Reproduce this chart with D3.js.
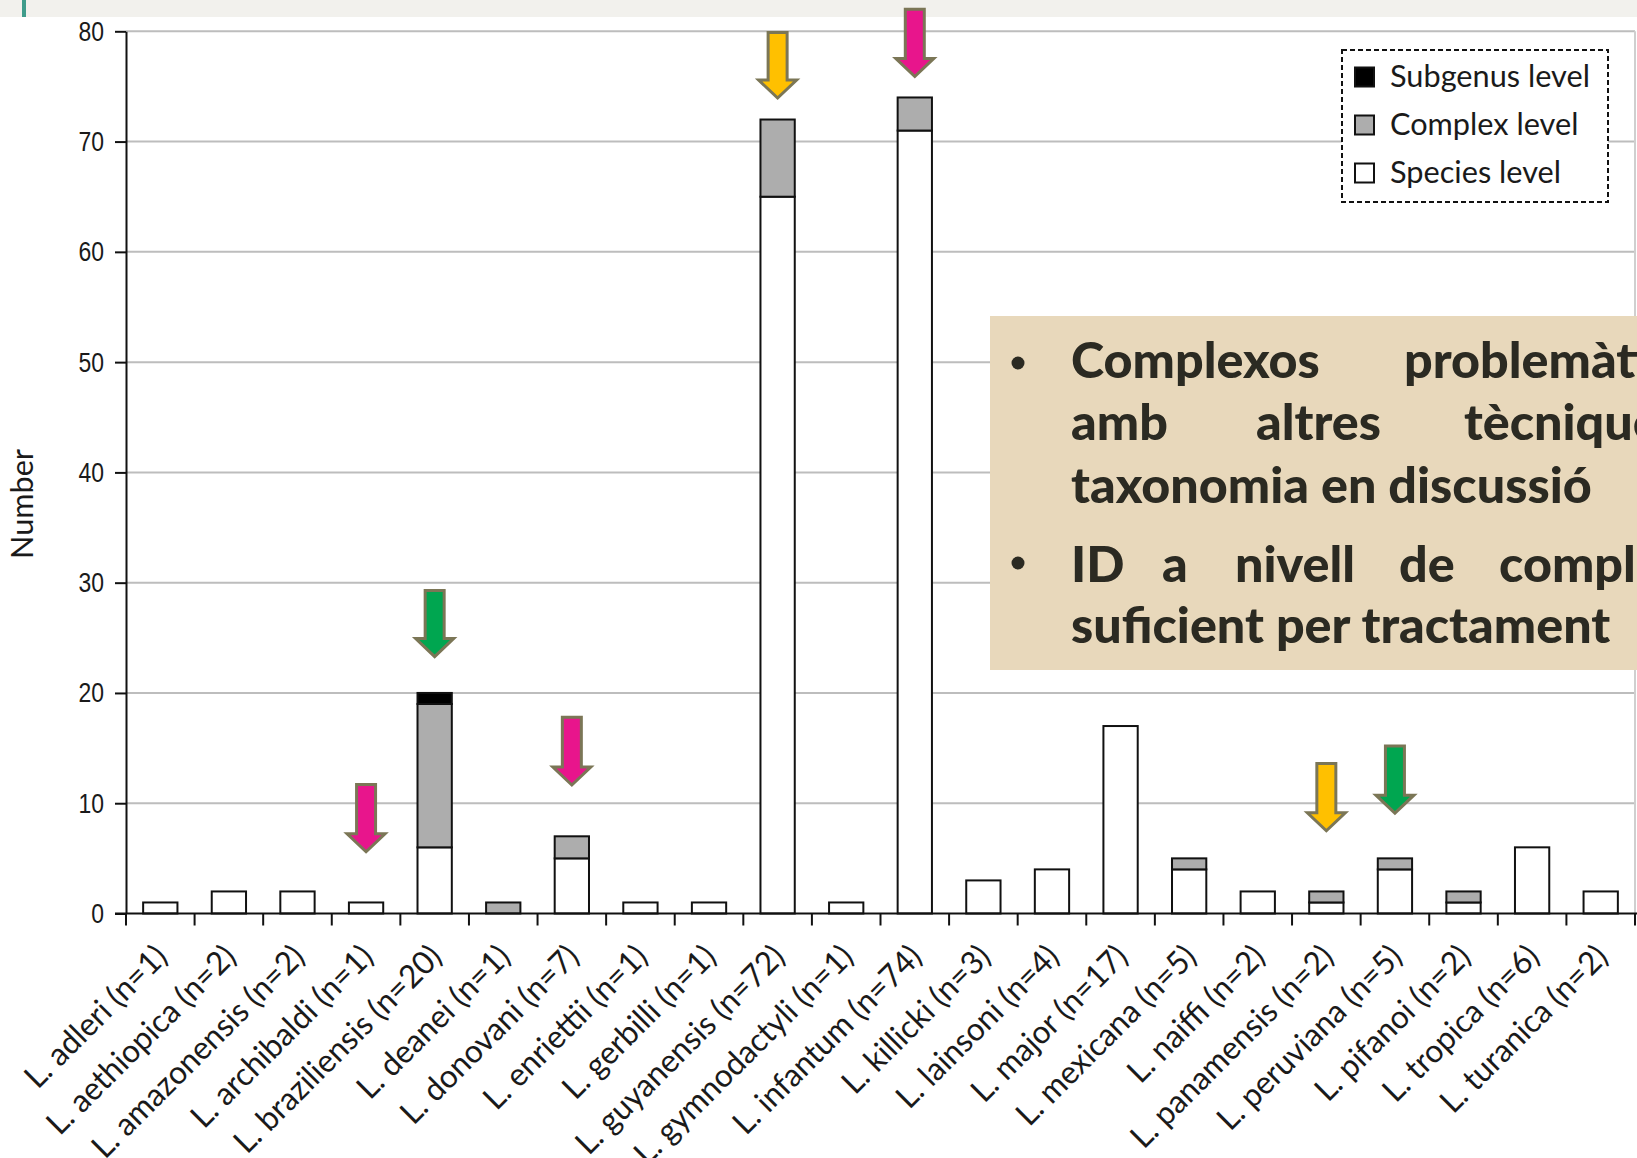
<!DOCTYPE html>
<html><head><meta charset="utf-8">
<script src="https://cdn.jsdelivr.net/npm/d3@7"></script>
<style>body{margin:0;background:#fff;overflow:hidden}svg{display:block}</style>
</head><body>
<svg id="c" width="1637" height="1158"></svg>
<script>
// ---------- data ----------
const categories = ["L. adleri (n=1)","L. aethiopica (n=2)","L. amazonensis (n=2)","L. archibaldi (n=1)",
  "L. braziliensis (n=20)","L. deanei (n=1)","L. donovani (n=7)","L. enriettii (n=1)","L. gerbilli (n=1)",
  "L. guyanensis (n=72)","L. gymnodactyli (n=1)","L. infantum (n=74)","L. killicki (n=3)","L. lainsoni (n=4)",
  "L. major (n=17)","L. mexicana (n=5)","L. naiffi (n=2)","L. panamensis (n=2)","L. peruviana (n=5)",
  "L. pifanoi (n=2)","L. tropica (n=6)","L. turanica (n=2)"];
const speciesLevel  = [1,2,2,1,6,0,5,1,1,65,1,71,3,4,17,4,2,1,4,1,6,2];
const complexLevel  = [0,0,0,0,13,1,2,0,0,7,0,3,0,0,0,1,0,1,1,1,0,0];
const subgenusLevel = [0,0,0,0,1,0,0,0,0,0,0,0,0,0,0,0,0,0,0,0,0,0];
const seriesKeys = ["species","complex","subgenus"];
const legendLabels = ["Subgenus level","Complex level","Species level"];
const legendKeys = ["subgenus","complex","species"];
const yTicks = [0,10,20,30,40,50,60,70,80];
const yTitle = "Number";
// arrows: category, colour name, top value and tip value (data units)
const arrowCats  = ["L. archibaldi (n=1)","L. braziliensis (n=20)","L. donovani (n=7)","L. guyanensis (n=72)",
  "L. infantum (n=74)","L. panamensis (n=2)","L. peruviana (n=5)"];
const arrowColor = ["pink","green","pink","orange","pink","orange","green"];
const arrowTop   = [11.7,29.3,17.8,79.9,82.0,13.6,15.2];
const arrowTip   = [5.6,23.3,11.65,73.95,75.9,7.5,9.1];
// overlay note (Catalan), lines of words
const noteLines = [
  ["Complexos","problemàtics"],
  ["amb","altres","tècniques"],
  ["taxonomia en discussió"],
  ["ID","a","nivell","de","complex"],
  ["suficient per tractament"]
];

// ---------- styles ----------
const fills = {species:"#ffffff", complex:"#adadad", subgenus:"#000000"};
const arrowFills = {pink:"#e8158c", green:"#00a650", orange:"#ffc000"};
const svg = d3.select("#c");

function measure(text, family, weight, size){
  const t = svg.append("text").attr("font-family",family).attr("font-weight",weight)
     .attr("font-size",size).text(text);
  const len = t.node().getComputedTextLength(); t.remove();
  return len;
}
function fitSize(text, family, weight, target){
  return 100*target/measure(text, family, weight, 100);
}

// top strip
svg.append("rect").attr("x",0).attr("y",0).attr("width",1637).attr("height",17).attr("fill","#f2f1ed");
svg.append("rect").attr("x",22).attr("y",0).attr("width",4).attr("height",17).attr("fill","#3f9c8b");

const m = {left:126, right:1635, top:31.3, bottom:913.5};
const x = d3.scaleBand().domain(categories).range([m.left, m.right]).paddingInner(0.5).paddingOuter(0.25);
const y = d3.scaleLinear().domain([0,80]).range([m.bottom, m.top]);

// gridlines
svg.append("g").selectAll("line").data(yTicks.filter(d=>d>0)).join("line")
  .attr("x1",m.left).attr("x2",m.right).attr("y1",d=>y(d)).attr("y2",d=>y(d))
  .attr("stroke","#bdbdbd").attr("stroke-width",2);
svg.append("line").attr("x1",m.right).attr("x2",m.right).attr("y1",y(80)).attr("y2",y(0))
  .attr("stroke","#cfcfcf").attr("stroke-width",2);

// bars
const table = categories.map((c,i)=>({cat:c, species:speciesLevel[i], complex:complexLevel[i], subgenus:subgenusLevel[i]}));
const stacked = d3.stack().keys(seriesKeys)(table);
svg.append("g").selectAll("g").data(stacked).join("g").attr("fill",d=>fills[d.key])
  .selectAll("rect").data(d=>d.filter(s=>s[1]-s[0]>0)).join("rect")
  .attr("x",d=>x(d.data.cat)).attr("width",x.bandwidth())
  .attr("y",d=>y(d[1])).attr("height",d=>y(d[0])-y(d[1]))
  .attr("stroke","#111").attr("stroke-width",2);

// y axis
const tickSX = 0.82;
const yAx = svg.append("g").attr("transform",`translate(${m.left},0)`)
  .call(d3.axisLeft(y).tickValues(yTicks).tickSize(11).tickPadding(12).tickSizeOuter(0));
yAx.select(".domain").attr("stroke","#111").attr("stroke-width",2);
yAx.selectAll(".tick line").attr("stroke","#111").attr("stroke-width",2);
yAx.selectAll(".tick text").attr("font-family","'Liberation Sans',Arial,sans-serif")
  .attr("font-size",28).attr("fill","#1a1a1a")
  .attr("x",-22/tickSX).attr("transform",`scale(${tickSX},1)`);

// x axis line and boundary ticks
svg.append("line").attr("x1",m.left-11).attr("x2",1637).attr("y1",m.bottom).attr("y2",m.bottom)
  .attr("stroke","#111").attr("stroke-width",2);
const step = x.step();
const bounds = categories.map(c=>x(c)+x.bandwidth()/2-step/2).concat([x(categories[categories.length-1])+x.bandwidth()/2+step/2]);
svg.append("g").selectAll("line").data(bounds).join("line")
  .attr("x1",d=>d).attr("x2",d=>d).attr("y1",m.bottom).attr("y2",m.bottom+12)
  .attr("stroke","#111").attr("stroke-width",2);

// category labels
const labFont = "Lato, 'Open Sans', sans-serif";
const labSize = 32;
const labSX = 285/measure("L. amazonensis (n=2)", labFont, 400, labSize);
svg.append("g").selectAll("text").data(categories).join("text")
  .attr("transform",d=>`translate(${x(d)+x.bandwidth()/2+9},${m.bottom+45}) rotate(-45) scale(${labSX},1)`)
  .attr("text-anchor","end").attr("font-family",labFont).attr("font-size",labSize)
  .attr("fill","#1a1a1a").text(d=>d);

// y title
const numSize = fitSize(yTitle, labFont, 400, 110);
svg.append("text").attr("transform","translate(33,504) rotate(-90)").attr("text-anchor","middle")
  .attr("font-family",labFont).attr("font-size",numSize).attr("fill","#1a1a1a").text(yTitle);

// legend
svg.append("rect").attr("x",1342).attr("y",50).attr("width",266).attr("height",152)
  .attr("fill","#fff").attr("stroke","#111").attr("stroke-width",2).attr("stroke-dasharray","5,3");
const legSize = fitSize(legendLabels[0], labFont, 400, 200);
const lg = svg.append("g").selectAll("g").data(legendKeys).join("g")
  .attr("transform",(d,i)=>`translate(1355,${77+i*48})`);
lg.append("rect").attr("x",0).attr("y",-9.5).attr("width",19).attr("height",19)
  .attr("fill",d=>fills[d]).attr("stroke","#111").attr("stroke-width",2);
lg.append("text").attr("x",35).attr("dy","0.33em").attr("font-family",labFont).attr("font-size",legSize)
  .attr("fill","#1a1a1a").text((d,i)=>legendLabels[i]);

// arrows
const aw = 19, hw = 38, hl = 18;
svg.append("g").selectAll("path").data(arrowCats).join("path")
  .attr("d",(c,i)=>{
    const cx = x(c)+x.bandwidth()/2, t = y(arrowTop[i]), tip = y(arrowTip[i]), hb = tip-hl;
    return `M${cx-aw/2},${t}H${cx+aw/2}V${hb}H${cx+hw/2}L${cx},${tip}L${cx-hw/2},${hb}H${cx-aw/2}Z`;
  })
  .attr("fill",(c,i)=>arrowFills[arrowColor[i]]).attr("stroke","#7b7656").attr("stroke-width",3)
  .attr("stroke-linejoin","miter");

// overlay note
svg.append("rect").attr("x",990).attr("y",316).attr("width",700).attr("height",354).attr("fill","#e8d8bb");
const noteFont = "Lato, 'Open Sans', sans-serif";
const noteSize = fitSize(noteLines[2][0], noteFont, 900, 521);
const baselines = [378,440,503,582,643];
const wordX = [[1071,1404],[1071,1256,1464],[1071],[1071,1162,1235,1399,1499],[1071]];
const ng = svg.append("g").attr("font-family",noteFont).attr("font-weight",900).attr("font-size",noteSize).attr("fill","#2b2a22");
noteLines.forEach((ws,li)=>{
  ws.forEach((w,wi)=>ng.append("text").attr("x",wordX[li][wi]).attr("y",baselines[li]).text(w));
});
[363,563].forEach(cy=>ng.append("circle").attr("cx",1018).attr("cy",cy).attr("r",6.5).attr("fill","#2b2a22"));
</script>
</body></html>
